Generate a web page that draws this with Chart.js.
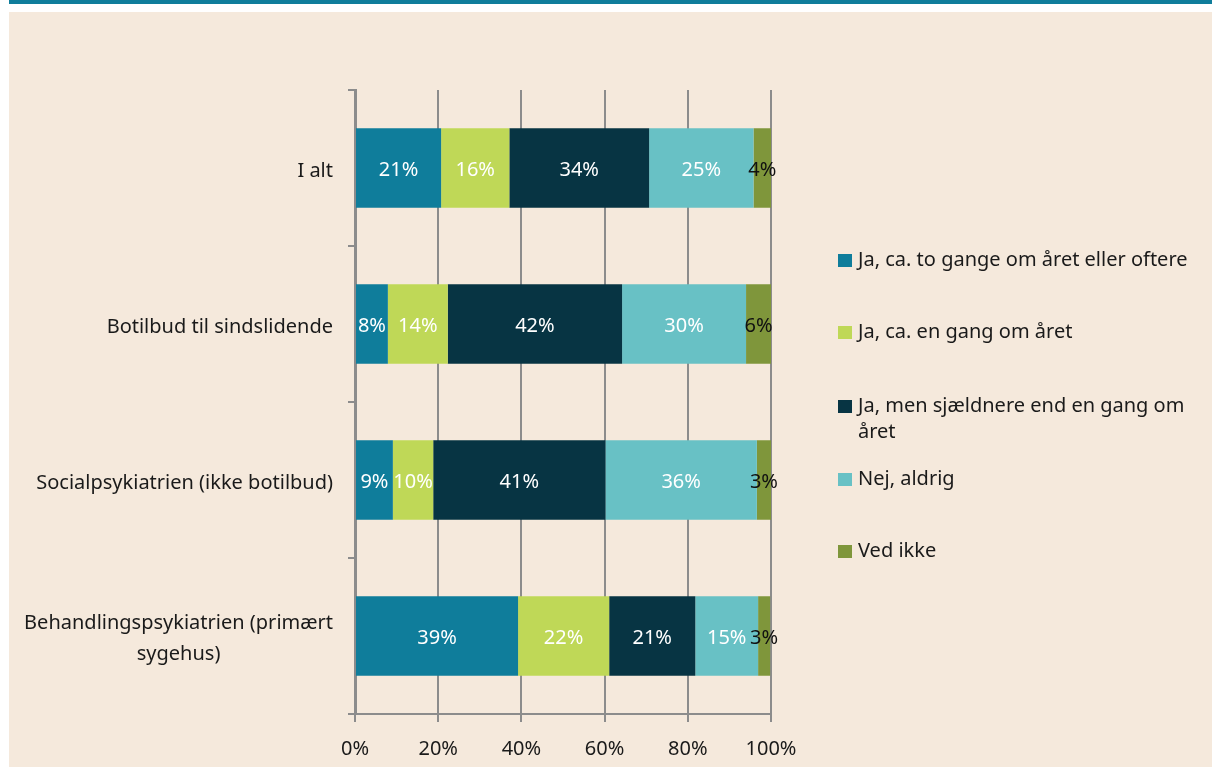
<!DOCTYPE html>
<html>
<head>
<script src="https://cdn.jsdelivr.net/npm/chart.js"></script>
<style>
  body { margin:0; background:#ffffff; width:1216px; height:767px; overflow:hidden; position:relative; font-family:"Noto Sans", sans-serif; }
  #topbar { position:absolute; left:9px; top:0; width:1203px; height:4px; background:#0f7d9b; }
  #panel { position:absolute; left:9px; top:12px; width:1203px; height:755px; background:#f5e9dc; }
  #wrap { position:absolute; left:0; top:0; width:1216px; height:767px; }
  #legend { position:absolute; left:838px; top:0; width:370px; font-size:20px; color:#1a1a1a; }
  .item { position:absolute; left:0; width:370px; }
  .sw { position:absolute; left:0; width:14px; height:13px; }
  .tx { position:absolute; left:20px; line-height:26px; width:350px; }
</style>
</head>
<body>
<div id="topbar"></div>
<div id="panel"></div>
<div id="wrap"><canvas id="myChart" width="1216" height="767"></canvas></div>
<div id="legend"></div>

<script>
  // categories (top to bottom) and series, percentages
  const categories = ['I alt', 'Botilbud til sindslidende', 'Socialpsykiatrien (ikke botilbud)', ['Behandlingspsykiatrien (primært', 'sygehus)']];
  const seriesNames = ['Ja, ca. to gange om året eller oftere', 'Ja, ca. en gang om året', 'Ja, men sjældnere end en gang om året', 'Nej, aldrig', 'Ved ikke'];
  const toOften   = [20.7, 7.9, 9.1, 39.2];
  const enGang    = [16.4, 14.4, 9.7, 21.9];
  const sjaeldent = [33.6, 41.9, 41.4, 20.7];
  const aldrig    = [25.1, 29.8, 36.4, 15.1];
  const vedIkke   = [4.2, 6.0, 3.4, 2.9];
  const xTicks = [0, 20, 40, 60, 80, 100];

  const colors = ['#0f7d9b', '#bfd857', '#073443', '#68c1c5', '#7f963b'];
  const labelColors = ['#ffffff', '#ffffff', '#ffffff', '#ffffff', '#111111'];
  const gray = '#8c8c8c';
  const font = '"Noto Sans", sans-serif';

  const ctx = document.getElementById('myChart');
  const values = [toOften, enGang, sjaeldent, aldrig, vedIkke];

  // legend on the right (html)
  const legendTops = [246, 318, 392, 465, 537];
  const legendBox = document.getElementById('legend');
  for (let i = 0; i < seriesNames.length; i++) {
    const it = document.createElement('div');
    it.className = 'item';
    it.style.top = legendTops[i] + 'px';
    let name = seriesNames[i];
    if (i == 2) name = 'Ja, men sjældnere end en gang om<br>året';
    it.innerHTML = '<div class="sw" style="top:8px;background:' + colors[i] + '"></div><div class="tx">' + name + '</div>';
    legendBox.appendChild(it);
  }

  const segmentLabels = {
    id: 'segmentLabels',
    afterDatasetsDraw(chart) {
      const c = chart.ctx;
      c.save();
      c.font = '20px ' + font;
      c.textAlign = 'center';
      c.textBaseline = 'middle';
      chart.data.datasets.forEach((ds, di) => {
        chart.getDatasetMeta(di).data.forEach((bar, i) => {
          c.fillStyle = labelColors[di];
          c.fillText(Math.round(ds.data[i]) + '%', (bar.x + bar.base) / 2, bar.y + 2);
        });
      });
      c.restore();
    }
  };

  // category labels: block right aligned, wrapped lines centred in the block
  const catLabels = {
    id: 'catLabels',
    afterDraw(chart) {
      const c = chart.ctx;
      const y = chart.scales.y;
      c.save();
      c.font = '20px ' + font;
      c.fillStyle = '#1a1a1a';
      c.textBaseline = 'middle';
      c.textAlign = 'center';
      const right = chart.chartArea.left - 22;
      categories.forEach((lab, i) => {
        const lines = Array.isArray(lab) ? lab : [lab];
        const w = Math.max(...lines.map(l => c.measureText(l).width));
        const cy = y.getPixelForValue(i);
        const lh = 31;
        lines.forEach((l, k) => {
          c.fillText(l, right - w / 2, cy + 3 + (k - (lines.length - 1) / 2) * lh);
        });
      });
      c.restore();
    }
  };

  new Chart(ctx, {
    type: 'bar',
    data: {
      labels: categories,
      datasets: seriesNames.map((n, i) => ({
        label: n,
        data: values[i],
        backgroundColor: colors[i],
        borderWidth: 0,
        barPercentage: 0.51,
        categoryPercentage: 1
      }))
    },
    options: {
      indexAxis: 'y',
      responsive: false,
      animation: false,
      layout: { padding: { top: 90, right: 445, bottom: 0, left: 0 } },
      plugins: { legend: { display: false }, tooltip: { enabled: false } },
      scales: {
        x: {
          stacked: true,
          min: 0, max: 100,
          afterBuildTicks: s => { s.ticks = xTicks.map(v => ({ value: v })); },
          afterFit: s => { s.height = 53; },
          grid: { color: gray, lineWidth: 2, tickLength: 8 },
          border: { color: gray, width: 2 },
          ticks: { color: '#1a1a1a', font: { family: font, size: 20 }, padding: 15, callback: v => v + '%' }
        },
        y: {
          stacked: true,
          afterFit: s => { s.width = 355; },
          grid: { display: true, drawOnChartArea: false, color: gray, lineWidth: 2, tickLength: 7, offset: true },
          border: { color: gray, width: 3 },
          ticks: { display: false }
        }
      }
    },
    plugins: [segmentLabels, catLabels]
  });
</script>
</body>
</html>
